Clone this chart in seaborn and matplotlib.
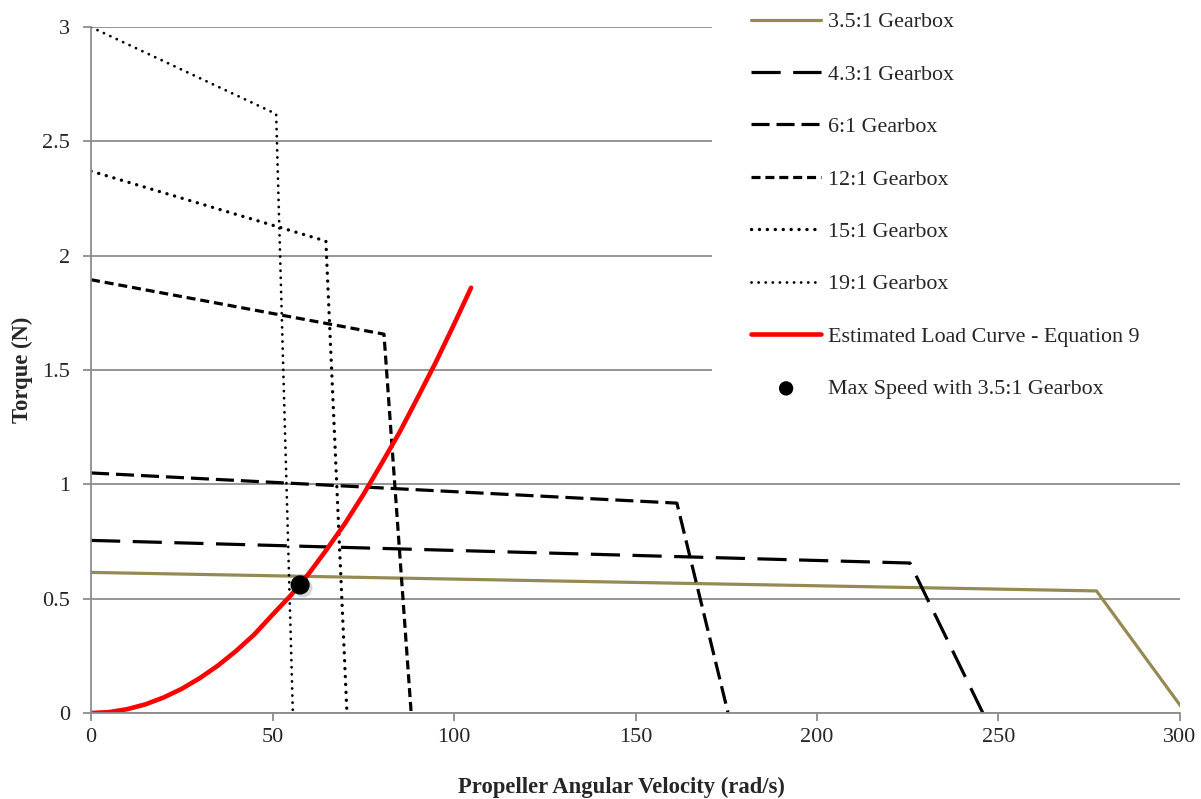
import pandas as pd
import matplotlib
matplotlib.use("Agg")
import matplotlib.pyplot as plt
import matplotlib.patheffects as pe
from matplotlib.patches import Rectangle
import seaborn as sns

# gearbox torque curves (x = rad/s, y = N)
w_35 = [0, 277, 301.6]
t_35 = [0.615, 0.534, 0.0]
w_43 = [0, 225.6, 245.7]
t_43 = [0.755, 0.656, 0.0]
w_6 = [0, 161.4, 175.5]
t_6 = [1.05, 0.918, 0.0]
w_12 = [0, 80.7, 88.2]
t_12 = [1.895, 1.657, 0.0]
w_15 = [0, 64.7, 70.5]
t_15 = [2.37, 2.064, 0.0]
w_19 = [0, 51.0, 55.6]
t_19 = [3.0, 2.62, 0.0]

# estimated load curve
w_load = [0, 5, 10, 15, 20, 25, 30, 35, 40, 45, 50, 55, 60, 65, 70, 75, 80, 85, 90,
          95, 100, 104.7]
t_load = [0, 0.004, 0.017, 0.038, 0.068, 0.106, 0.153, 0.208, 0.272, 0.344, 0.43,
          0.514, 0.61, 0.717, 0.83, 0.955, 1.09, 1.228, 1.38, 1.535, 1.70, 1.86]

# max speed point
w_max = [57.6]
t_max = [0.56]

sns.set_style("white")
plt.rcParams["font.family"] = ["Liberation Serif", "DejaVu Serif"]
plt.rcParams["lines.scale_dashes"] = False

fig = plt.figure(figsize=(12.01, 7.99), dpi=100)
ax = fig.add_axes([0.0758, 0.1076, 0.9067, 0.8585])

series = [
    (w_35, t_35, "3.5:1 Gearbox", dict(color="#948A54", linewidth=2.3)),
    (w_43, t_43, "4.3:1 Gearbox", dict(color="black", linewidth=2.3, dashes=(21, 9))),
    (w_6, t_6, "6:1 Gearbox", dict(color="black", linewidth=2.3, dashes=(13, 5))),
    (w_12, t_12, "12:1 Gearbox", dict(color="black", linewidth=2.3, dashes=(6.5, 3.5))),
    (w_15, t_15, "15:1 Gearbox", dict(color="black", linewidth=2.4, dashes=(0.1, 5.6),
                                      dash_capstyle="round")),
    (w_19, t_19, "19:1 Gearbox", dict(color="black", linewidth=2.0, dashes=(0.1, 5.0),
                                      dash_capstyle="round")),
]
for w, t, lab, kw in series:
    df = pd.DataFrame({"w": w, "t": t})
    sns.lineplot(data=df, x="w", y="t", ax=ax, label=lab, sort=False, estimator=None, **kw)

df_load = pd.DataFrame({"w": w_load, "t": t_load})
sns.lineplot(data=df_load, x="w", y="t", ax=ax, color="#FF0000", linewidth=3.3,
             label="Estimated Load Curve - Equation 9", sort=False, estimator=None,
             solid_capstyle="round")

df_max = pd.DataFrame({"w": w_max, "t": t_max})
sns.scatterplot(data=df_max, x="w", y="t", ax=ax, color="black", s=190,
                edgecolor="none", label="Max Speed with 3.5:1 Gearbox", zorder=5)
ax.collections[-1].set_path_effects([
    pe.SimplePatchShadow(offset=(2, -2), shadow_rgbFace="#999999", alpha=0.4),
    pe.Normal()])

ax.set_xlim(0, 300)
ax.set_ylim(0, 3)
ax.set_xticks([0, 50, 100, 150, 200, 250, 300])
ax.set_yticks([0, 0.5, 1, 1.5, 2, 2.5, 3])
ax.set_yticklabels(["0", "0.5", "1", "1.5", "2", "2.5", "3"])
ax.yaxis.grid(True, color="#8C8C8C", linewidth=1.3)
ax.xaxis.grid(False)
ax.set_axisbelow(True)

for s in ["top", "right"]:
    ax.spines[s].set_visible(False)
for s in ["left", "bottom"]:
    ax.spines[s].set_color("#8C8C8C")
    ax.spines[s].set_linewidth(1.3)
ax.tick_params(axis="both", which="major", length=6, width=1.3, color="#8C8C8C",
               labelsize=16, direction="out", bottom=True, left=True)
ax.tick_params(axis="y", pad=9)
ax.tick_params(axis="x", pad=5)

ax.set_xlabel("Propeller Angular Velocity (rad/s)", fontsize=16.3, fontweight="bold")
ax.set_ylabel("Torque (N)", fontsize=16.3, fontweight="bold")
ax.xaxis.set_label_coords(0.487, -0.093)
ax.yaxis.set_label_coords(-0.053, 0.5)

# white legend area covering the top right of the grid
fig.patches.append(Rectangle((0.593, 1 - 405 / 799), 0.407, 405 / 799,
                             transform=fig.transFigure, facecolor="white",
                             edgecolor="none", zorder=3))

handles, labels = ax.get_legend_handles_labels()
ax.get_legend().remove()
leg = fig.legend(handles, labels, loc="upper left", bbox_to_anchor=(0.618, 0.996),
                 fontsize=15.8, frameon=False, handlelength=3.2, handletextpad=0.3,
                 labelspacing=1.46, borderpad=0.4, borderaxespad=0.0, markerscale=0.75)
leg.set_zorder(4)
leg.legend_handles[-1].set_path_effects([])

fig.savefig("out.png", dpi=100)
